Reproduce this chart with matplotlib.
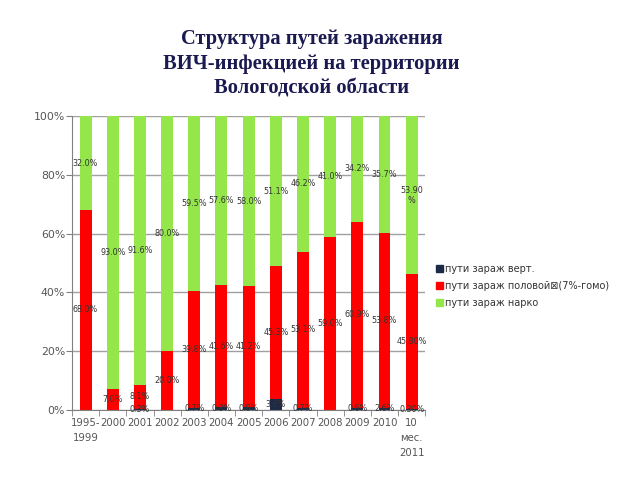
import matplotlib
matplotlib.use("Agg")
import matplotlib.pyplot as plt
import numpy as np
from matplotlib.patches import Patch

plt.rcParams["font.family"] = ["DejaVu Sans"]

# categories and shares (% of cases)
years = ["1995-\n1999", "2000", "2001", "2002", "2003", "2004", "2005",
         "2006", "2007", "2008", "2009", "2010", "10\nмес.\n2011"]
vert = [0.0, 0.0, 0.3, 0.0, 0.7, 0.8, 0.8, 3.6, 0.7, 0.0, 0.6, 0.6, 0.3]
sex = [68.0, 7.0, 8.1, 20.0, 39.8, 41.6, 41.2, 45.3, 53.1, 59.0, 63.4, 59.7, 45.8]
drug = [32.0, 93.0, 91.6, 80.0, 59.5, 57.6, 58.0, 51.1, 46.2, 41.0, 36.0, 39.7, 53.9]

vert_lbl = ["", "", "0.3%", "", "0.7%", "0.8%", "0.8%", "3.6%", "0.7%", "",
            "0.6%", "2.6%", "0.30%"]
sex_lbl = ["68.0%", "7.0%", "8.1%", "20.0%", "39.8%", "41.6%", "41.2%",
           "45.3%", "53.1%", "59.0%", "60.9%", "53.8%", "45.80%"]
drug_lbl = ["32.0%", "93.0%", "91.6%", "80.0%", "59.5%", "57.6%", "58.0%",
            "51.1%", "46.2%", "41.0%", "34.2%", "35.7%", "53.90\n%"]

series = ["пути зараж верт.", "пути зараж половой\u22a0(7%-гомо)", "пути зараж нарко"]
colors = ["#1c2a47", "#ff0000", "#94e64a"]

fig = plt.figure(figsize=(6.4, 4.8), dpi=100)
ax = fig.add_axes([0.1125, 0.1465, 0.552, 0.6115])

x = np.arange(len(years))
w = 0.44
bottom = np.zeros(len(years))
for vals, lbls, c in zip([vert, sex, drug], [vert_lbl, sex_lbl, drug_lbl], colors):
    vals = np.array(vals)
    ax.bar(x, vals, w, bottom=bottom, color=c, zorder=2)
    for xi, b, v, t in zip(x, bottom, vals, lbls):
        if t:
            ax.text(xi, b + v / 2, t, ha="center", va="center", fontsize=5.8,
                    color="#333333", zorder=3)
    bottom += vals

ax.set_xlim(-0.5, len(years) - 0.5)
ax.set_ylim(0, 100)
ax.set_yticks([0, 20, 40, 60, 80, 100])
ax.set_yticklabels(["0%", "20%", "40%", "60%", "80%", "100%"])
ax.yaxis.grid(True, color="#a0a0a0", linewidth=1, zorder=0)
ax.set_axisbelow(True)

ax.set_xticks(x)
ax.set_xticklabels(years, linespacing=1.6)
ax.set_xticks(np.arange(-0.5, len(years)), minor=True)
ax.tick_params(axis="x", which="major", length=0, pad=6, labelsize=7.3)
ax.tick_params(axis="x", which="minor", length=4, color="#808080")
ax.tick_params(axis="y", length=4, color="#808080", pad=1, labelsize=7.8)
ax.tick_params(labelcolor="#555555")

for side in ["top", "right"]:
    ax.spines[side].set_visible(False)
for side in ["left", "bottom"]:
    ax.spines[side].set_color("#808080")

handles = [Patch(color=colors[i], label=series[i]) for i in range(3)]
fig.legend(handles=handles, loc="upper left", bbox_to_anchor=(0.668, 0.468),
           frameon=False, fontsize=7.0, handlelength=0.7, handleheight=0.7,
           handletextpad=0.2, labelspacing=0.7, labelcolor="#333333")

fig.text(0.487, 0.94, "Структура путей заражения\nВИЧ-инфекцией на территории\nВологодской области",
         ha="center", va="top", fontsize=14.8, fontweight="bold",
         family="Liberation Serif", color="#1a1a50", linespacing=1.32)

fig.savefig("out.png", dpi=100)
